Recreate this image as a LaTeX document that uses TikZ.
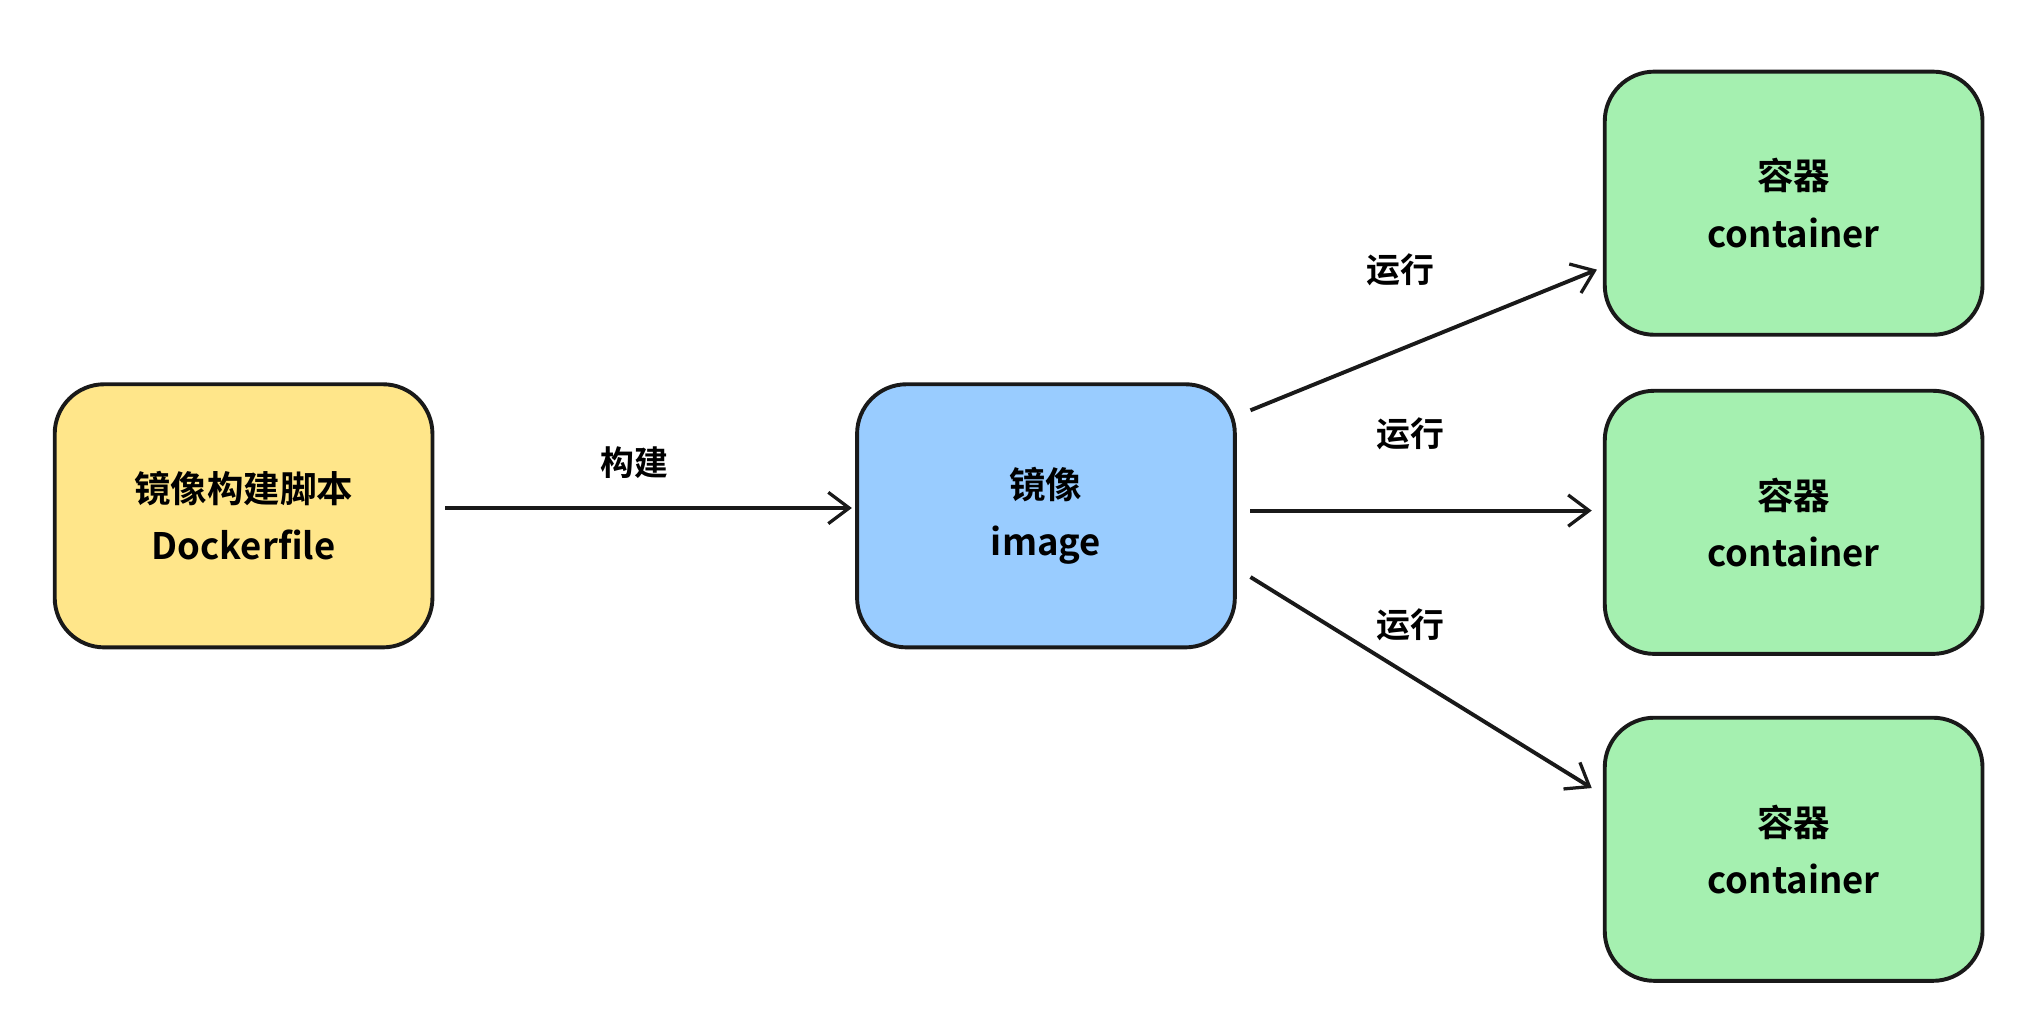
\documentclass[tikz,border=0pt]{standalone}
\usepackage{fontspec}
\setmainfont{Noto Sans CJK SC}[BoldFont={Noto Sans CJK SC Bold}]
\usetikzlibrary{arrows.meta}
\definecolor{yel}{HTML}{FFE68A}
\definecolor{blu}{HTML}{99CCFF}
\definecolor{grn}{HTML}{A5F0B0}
\begin{document}
\begin{tikzpicture}[x=1pt,y=-1pt,
  box/.style={draw=black!90,line width=3pt,rounded corners=38pt,minimum width=290pt,minimum height=202pt,align=center,font=\bfseries\fontsize{28}{44}\selectfont},
  arr/.style={line width=3pt,draw=black!90,-{Straight Barb[length=16pt,width=24pt,line width=2.5pt]}},
  lab/.style={font=\bfseries\fontsize{26}{30}\selectfont}]
\useasboundingbox (0,0) rectangle (1560,789);
\node[box,fill=yel] (y) at (187,396) {镜像构建脚本\\Dockerfile};
\node[box,fill=blu] (b) at (803,396) {镜像\\image};
\node[box,fill=grn] (g1) at (1377,156) {容器\\container};
\node[box,fill=grn] (g2) at (1377,401) {容器\\container};
\node[box,fill=grn] (g3) at (1377,652) {容器\\container};
\coordinate (s0) at (342,390); \coordinate (e0) at (654,390);
\coordinate (s1) at (960,315); \coordinate (e1) at (1226,207);
\coordinate (s2) at (960,392); \coordinate (e2) at (1222,392);
\coordinate (s3) at (960,443); \coordinate (e3) at (1222,605);
\draw[arr] (s0) -- (e0);
\draw[arr] (s1) -- (e1);
\draw[arr] (s2) -- (e2);
\draw[arr] (s3) -- (e3);
\node[lab] (l0) at (487,355) {构建};
\node[lab] (l1) at (1075,207) {运行};
\node[lab] (l2) at (1083,333) {运行};
\node[lab] (l3) at (1083,480) {运行};
\end{tikzpicture}
\end{document}
